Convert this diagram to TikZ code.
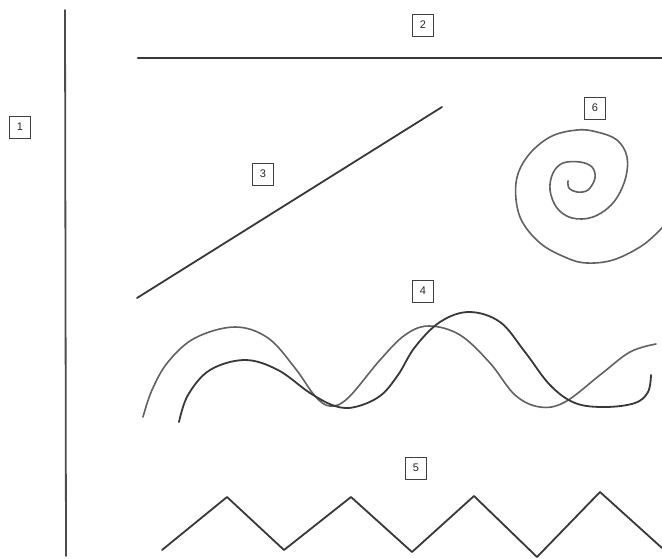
\documentclass[tikz,border=0pt]{standalone}
\usepackage{fontspec}
\setmainfont{Liberation Sans}
\begin{document}
\begin{tikzpicture}[x=1pt,y=-1pt,
  lbl/.style={draw=black!75,line width=0.8pt,minimum width=21pt,minimum height=22pt,inner sep=0pt,font=\fontsize{11}{12}\selectfont,text=black!85},
  stroke/.style={draw=black!78,line width=1.8pt,line cap=round,line join=round},
  lightstroke/.style={draw=black!62,line width=1.6pt,line cap=round,line join=round}]
\useasboundingbox[fill=white] (0,0) rectangle (662,558);
% labels
\node[lbl] (l1) at (20,127) {1};
\node[lbl] (l2) at (423,25) {2};
\node[lbl] (l3) at (263,174) {3};
\node[lbl] (l4) at (423,291) {4};
\node[lbl] (l5) at (416,468) {5};
\node[lbl] (l6) at (595,108) {6};
% line 1 (vertical)
\coordinate (v1) at (65,10);
\coordinate (v2) at (66,556);
\draw[stroke,draw=black!70] (v1) -- (v2);
% line 2 (horizontal)
\coordinate (h1) at (138,58);
\coordinate (h2) at (662,58);
\draw[stroke,line width=2.2pt] (h1) -- (h2);
% line 3 (diagonal)
\coordinate (d1) at (137,298);
\coordinate (d2) at (442,107);
\draw[stroke] (d1) -- (d2);
% spiral 6
\draw[lightstroke] plot[smooth,tension=0.6] coordinates {
 (568,181) (569,188) (577,192) (588,190) (595,178) (592,167) (580,162)
 (563,163) (553,173) (550,190) (557,208) (572,218) (593,217) (613,203)
 (625,180) (627,157) (617,140) (597,132) (577,130) (550,137) (527,157)
 (516,183) (520,217) (540,243) (567,258) (587,263) (613,260) (640,247)
 (657,233) (664,225)};
% waves 4
\draw[lightstroke] plot[smooth,tension=0.6] coordinates {
 (143,417) (152,390) (168,362) (195,338) (235,327) (268,338) (295,368)
 (315,396) (330,406) (348,398) (380,360) (405,335) (429,326) (460,335)
 (490,363) (515,395) (540,407) (565,402) (600,375) (630,352) (656,344)};
\draw[stroke] plot[smooth,tension=0.6] coordinates {
 (179,422) (188,395) (210,370) (245,360) (278,370) (310,393) (335,406)
 (355,407) (380,396) (398,375) (415,347) (440,322) (469,312) (500,322)
 (525,352) (550,385) (575,403) (605,407) (635,403) (648,392) (651,375)};
% zigzag 5
\draw[stroke] (162,550) -- (227,497) -- (284,550) -- (351,497) -- (412,552)
 -- (474,496) -- (537,557) -- (600,492) -- (662,548);
\end{tikzpicture}
\end{document}
